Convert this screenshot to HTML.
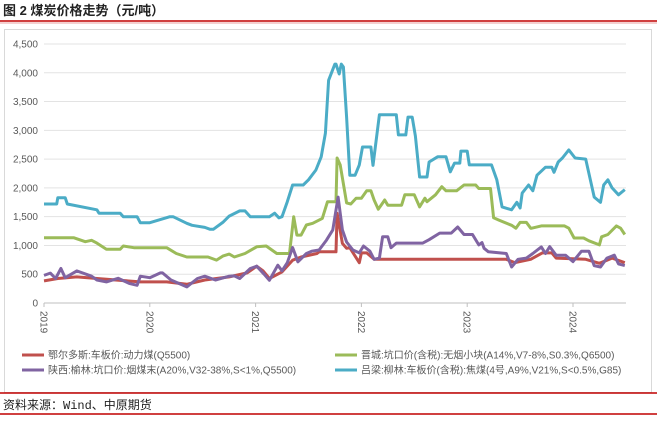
<!DOCTYPE html>
<html><head><meta charset="utf-8">
<style>
body{margin:0;background:#fff;width:657px;height:424px;overflow:hidden;font-family:"Liberation Sans","Noto Sans CJK SC",sans-serif;}
svg{display:block}
</style></head><body>
<svg id="c" width="657" height="424" xmlns="http://www.w3.org/2000/svg">
<text x="3" y="15" font-size="13" font-weight="bold" fill="#222" font-family="Liberation Sans,Noto Sans CJK SC,sans-serif">图 2  煤炭价格走势（元/吨）</text>
<line x1="0" y1="21" x2="657" y2="21" stroke="#c00000" stroke-width="1.5"/>
<line x1="0" y1="23" x2="657" y2="23" stroke="#e08080" stroke-width="0.7"/>
<rect x="4.5" y="29.5" width="647" height="363" fill="#fff" stroke="#d9d9d9"/>
<g id="grid"></g><g id="axes"></g><g id="series"></g><g id="legend"></g>
<line x1="0" y1="393" x2="657" y2="393" stroke="#c00000" stroke-width="1.5"/>
<text x="3" y="409" font-size="12" fill="#222" font-family="Liberation Mono,Noto Sans CJK SC,monospace">资料来源：Wind、中原期货</text>
<line x1="0" y1="414" x2="657" y2="414" stroke="#c00000" stroke-width="1.5"/>
</svg>
<script>
const yTicks=[0,500,1000,1500,2000,2500,3000,3500,4000,4500];
const yTickLabels=["0","500","1,000","1,500","2,000","2,500","3,000","3,500","4,000","4,500"];
const xYears=[2019,2020,2021,2022,2023,2024];
const seriesNames=["鄂尔多斯:车板价:动力煤(Q5500)","晋城:坑口价(含税):无烟小块(A14%,V7-8%,S0.3%,Q6500)","陕西:榆林:坑口价:烟煤末(A20%,V32-38%,S<1%,Q5500)","吕梁:柳林:车板价(含税):焦煤(4号,A9%,V21%,S<0.5%,G85)"];
const seriesColors=["#c0504d","#9bbb59","#8064a2","#4bacc6"];
// time in years since 2019-01
const redT=[0,0.13,0.31,0.5,0.91,1.16,1.35,1.52,1.63,1.75,1.92,2.01,2.07,2.13,2.25,2.35,2.43,2.58,2.6,2.76,2.77,2.82,2.86,2.89,2.98,3.0,3.05,3.12,3.5,4.37,4.45,4.6,4.71,4.8,4.84,5.12,5.25,5.37,5.49];
const redV=[384,425,453,425,366,366,325,400,425,453,523,640,560,425,540,744,800,860,890,890,1560,1035,950,960,700,870,870,760,760,760,700,760,870,870,780,760,690,780,700];
const greenT=[0,0.28,0.39,0.45,0.5,0.59,0.72,0.75,0.85,1.16,1.25,1.35,1.55,1.63,1.69,1.75,1.8,1.9,2.01,2.1,2.2,2.32,2.36,2.39,2.43,2.48,2.54,2.63,2.68,2.76,2.77,2.8,2.86,2.9,2.95,3.0,3.05,3.09,3.12,3.16,3.22,3.25,3.38,3.41,3.5,3.55,3.6,3.62,3.7,3.76,3.8,3.9,3.97,4.08,4.11,4.22,4.25,4.3,4.42,4.46,4.5,4.56,4.6,4.61,4.7,4.92,4.96,5.01,5.1,5.15,5.25,5.27,5.33,5.41,5.45,5.49];
const greenV=[1134,1134,1065,1090,1040,935,935,990,960,960,860,800,800,745,815,850,800,860,977,990,860,860,1500,1180,1180,1355,1384,1470,1760,1760,2520,2400,1740,1720,1820,1820,1950,1950,1790,1630,1790,1700,1700,1880,1880,1670,1820,1760,1880,2020,1950,1950,2050,2050,1990,1990,1480,1440,1350,1300,1400,1400,1300,1300,1340,1340,1300,1130,1130,1080,1010,1150,1190,1340,1300,1190];
const purpleT=[0,0.06,0.11,0.16,0.2,0.31,0.45,0.5,0.59,0.7,0.81,0.88,0.91,1.0,1.1,1.12,1.2,1.35,1.45,1.52,1.62,1.75,1.8,1.85,1.95,2.01,2.08,2.13,2.21,2.25,2.3,2.35,2.4,2.48,2.53,2.6,2.67,2.73,2.78,2.82,2.86,2.92,2.98,3.02,3.08,3.12,3.17,3.2,3.25,3.28,3.33,3.58,3.64,3.74,3.85,3.91,3.97,4.05,4.11,4.14,4.16,4.2,4.37,4.42,4.48,4.56,4.62,4.7,4.74,4.78,4.84,4.93,5.0,5.08,5.15,5.2,5.26,5.32,5.39,5.43,5.49];
const purpleV=[480,520,425,600,440,558,465,400,366,430,337,308,465,440,523,523,400,280,425,465,400,465,470,425,600,640,500,395,657,560,700,965,715,860,900,920,1093,1270,1840,1270,1060,920,870,990,900,760,780,1150,1150,960,1040,1040,1100,1215,1215,1320,1190,1190,1010,1050,950,890,860,625,760,780,860,975,860,980,830,830,720,900,900,650,625,780,830,680,650];
const blueT=[0,0.12,0.13,0.2,0.22,0.5,0.52,0.72,0.75,0.88,0.91,1.0,1.19,1.22,1.35,1.4,1.52,1.57,1.6,1.69,1.75,1.85,1.9,1.95,2.13,2.18,2.22,2.25,2.3,2.35,2.45,2.5,2.57,2.62,2.66,2.69,2.75,2.76,2.79,2.81,2.83,2.86,2.89,2.94,2.98,3.01,3.09,3.11,3.14,3.17,3.33,3.35,3.42,3.44,3.48,3.51,3.55,3.62,3.64,3.72,3.8,3.84,3.88,3.93,3.94,4.0,4.02,4.23,4.28,4.33,4.42,4.47,4.5,4.52,4.58,4.62,4.66,4.74,4.8,4.82,4.86,4.9,4.96,5.02,5.12,5.2,5.26,5.29,5.33,5.37,5.43,5.49];
const blueV=[1720,1720,1830,1830,1720,1620,1560,1560,1500,1500,1395,1395,1500,1500,1385,1350,1314,1280,1280,1400,1510,1600,1600,1500,1500,1560,1480,1500,1760,2050,2050,2140,2310,2540,2950,3870,4150,4150,3980,4150,4100,3230,2220,2220,2400,2710,2710,2390,2830,3270,3270,2920,2920,3230,3230,2900,2190,2190,2450,2540,2540,2280,2430,2430,2640,2640,2400,2400,2140,1670,1620,1750,1650,1910,2050,1950,2220,2360,2360,2270,2450,2520,2660,2520,2500,1840,1750,2050,2140,2000,1880,1970];
const allT=[redT,greenT,purpleT,blueT], allV=[redV,greenV,purpleV,blueV];
const NS="http://www.w3.org/2000/svg";
const X0=44,XPY=105.8,Y0=303,Y1=44,VMAX=4500,XEND=626;
const xs=t=>X0+t*XPY, ys=v=>Y0-(v/VMAX)*(Y0-Y1);
function mk(tag,attrs,parent){const e=document.createElementNS(NS,tag);for(const k in attrs)e.setAttribute(k,attrs[k]);document.getElementById(parent).appendChild(e);return e;}
yTicks.forEach((v,i)=>{
  if(v>0){const g=mk('line',{x1:X0,x2:XEND,y1:ys(v),y2:ys(v),stroke:'#e3e3e3','stroke-width':1},'grid');
  
  }
  const t=mk('text',{x:38,y:ys(v)+3.5,'text-anchor':'end','font-size':10,fill:'#595959'},'axes');
  t.textContent=yTickLabels[i];
  
  
});
const ax=mk('line',{x1:X0,x2:XEND,y1:Y0,y2:Y0,stroke:'#bfbfbf','stroke-width':1},'axes');


xYears.forEach(yr=>{
  const x=xs(yr-2019);
  const tk=mk('line',{x1:x,x2:x,y1:Y0,y2:Y0+4,stroke:'#bfbfbf'},'axes');
  
  
  const t=mk('text',{x:x-3.5,y:Y0+8,'font-size':10,fill:'#595959',transform:`rotate(90 ${x-3.5} ${Y0+8})`},'axes');
  t.textContent=yr;
  
  
});
const order=[0,1,2,3];
order.forEach(i=>{
  const d=allT[i].map((t,j)=>(j?'L':'M')+xs(t).toFixed(1)+','+ys(allV[i][j]).toFixed(1)).join('');
  const p=mk('path',{d:d,fill:'none',stroke:seriesColors[i],'stroke-width':3,'stroke-linejoin':'round'},'series');
  
  
});
const legPos=[[22,355],[335,355],[22,370],[335,370]];
seriesNames.forEach((n,i)=>{
  const [lx,ly]=legPos[i];
  const l=mk('line',{x1:lx,x2:lx+22,y1:ly,y2:ly,stroke:seriesColors[i],'stroke-width':3},'legend');
  
  
  const t=mk('text',{x:lx+26,y:ly+3.5,'font-size':10,fill:'#595959'},'legend');
  t.textContent=n;
  
  
});
</script>
</body></html>
